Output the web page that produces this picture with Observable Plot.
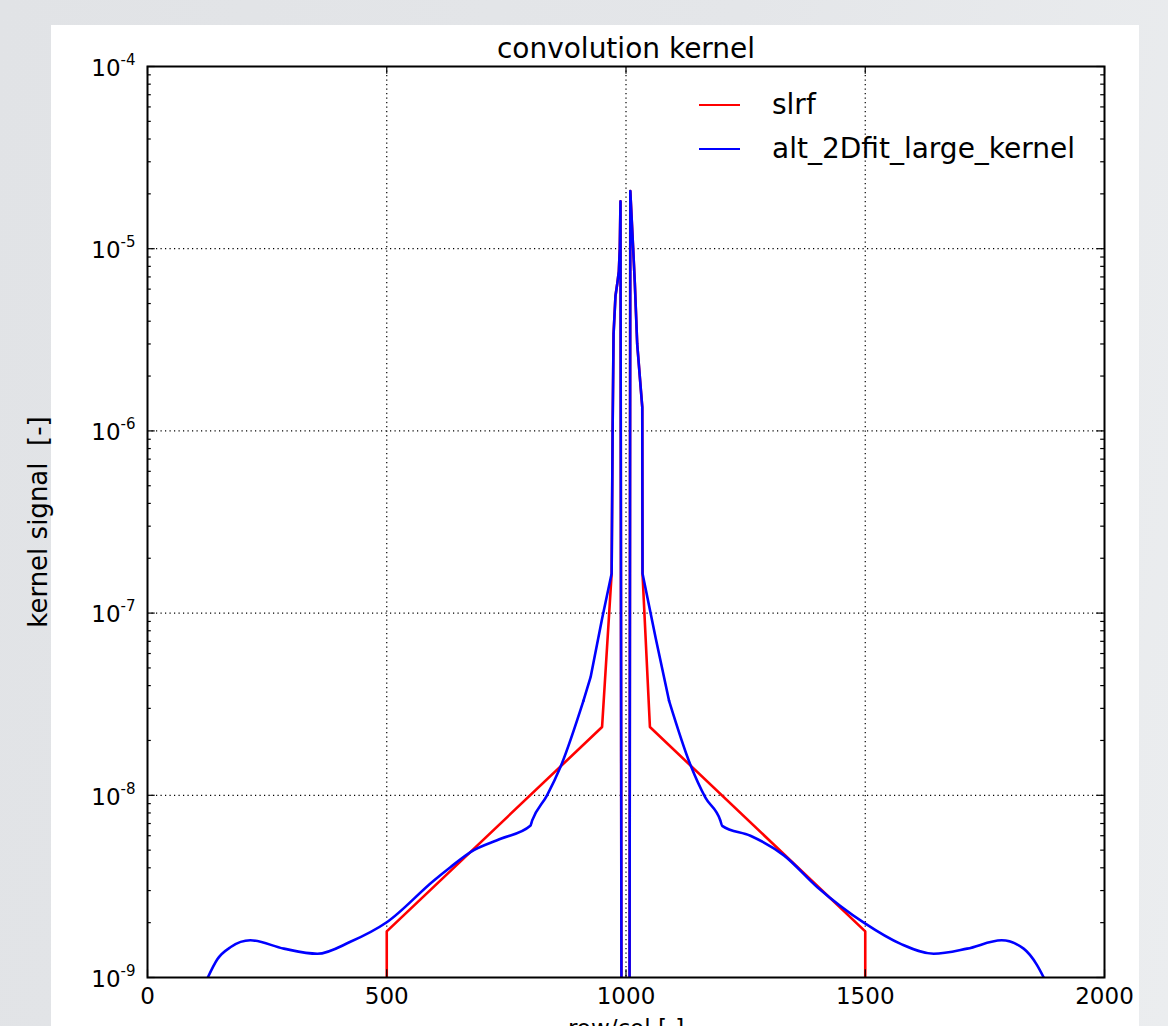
<!DOCTYPE html>
<html><head><meta charset="utf-8">
<script src="https://cdn.jsdelivr.net/npm/d3@7"></script>
<script src="https://cdn.jsdelivr.net/npm/@observablehq/plot@0.6"></script>
<style>
html,body{margin:0;padding:0;overflow:hidden;width:1168px;height:1026px;
  background:linear-gradient(100deg,#e1e3e6 0%,#e4e6e9 55%,#ebedef 100%);font-family:"DejaVu Sans",sans-serif;}
#panel{position:absolute;left:51px;top:25px;width:1088px;height:1040px;background:#fff;}
#chart{position:absolute;left:0;top:0;}
#legend{position:absolute;left:699px;top:83px;font-size:28px;line-height:44px;color:#000;font-family:"DejaVu Sans",sans-serif;}
.row{display:flex;align-items:center;height:44px;white-space:nowrap;}
.sw{width:41px;height:2.5px;margin-right:32px;}
</style></head><body>
<div id="panel"></div><div id="chart"></div><div id="legend"></div>
<script>
// ---- data ----
const title = "convolution kernel";
const xLabel = "row/col [-]";
const yLabel = "kernel signal\u00a0 [-]";
const seriesNames = ["slrf", "alt_2Dfit_large_kernel"];
const seriesColors = ["#ff0000", "#0000ff"];

const slrfX = [500, 500, 950, 970, 972, 974, 978, 982, 985, 987, 988.5, 1000, 1009, 1015, 1018.4, 1023.4, 1030, 1034, 1034.5, 1050, 1500, 1500];
const slrfY = [1e-30, 1.79e-9, 2.37e-8, 1.65e-7, 1e-6, 3.4e-6, 5.5e-6, 6.5e-6, 7.5e-6, 1e-5, 1.82e-5, 1e-30, 2.07e-5, 1e-5, 6.5e-6, 3e-6, 1.82e-6, 1.35e-6, 1.65e-7, 2.37e-8, 1.79e-9, 1e-30];

const altX = [126, 146, 174, 215, 285, 355, 424, 500, 598, 633, 675, 738, 800, 804, 835, 863, 911, 926, 950, 970, 972, 974, 978, 982, 985, 987, 988.5, 1000, 1009, 1015, 1018.4, 1023.4, 1030, 1034, 1034.5, 1062, 1090, 1135, 1166, 1197, 1201, 1260, 1330, 1400, 1497, 1574, 1643, 1713, 1785, 1831, 1859, 1873];
const altY = [1e-9, 1.26e-9, 1.47e-9, 1.6e-9, 1.44e-9, 1.35e-9, 1.57e-9, 2.01e-9, 3.4e-9, 4.03e-9, 4.88e-9, 5.77e-9, 6.8e-9, 7.28e-9, 1e-8, 1.43e-8, 3.3e-8, 4.45e-8, 9.3e-8, 1.65e-7, 1e-6, 3.4e-6, 5.5e-6, 6.5e-6, 7.5e-6, 1e-5, 1.82e-5, 1e-30, 2.07e-5, 1e-5, 6.5e-6, 3e-6, 1.82e-6, 1.35e-6, 1.65e-7, 7.3e-8, 3.3e-8, 1.46e-8, 9.7e-9, 7.3e-9, 6.8e-9, 6e-9, 4.68e-9, 3.13e-9, 2e-9, 1.53e-9, 1.35e-9, 1.44e-9, 1.6e-9, 1.44e-9, 1.17e-9, 1e-9];

const xTicks = [0, 500, 1000, 1500, 2000];
const xTickLabels = ["0", "500", "1000", "1500", "2000"];
const yTicks = [1e-9, 1e-8, 1e-7, 1e-6, 1e-5, 1e-4];
const yTickLabels = ["10^-9", "10^-8", "10^-7", "10^-6", "10^-5", "10^-4"];
const xGrid = [500, 1000, 1500];
const yGrid = [1e-8, 1e-7, 1e-6, 1e-5];
const yMinor = [];
for (let e = -9; e <= -5; e++) for (let k = 2; k <= 9; k++) yMinor.push(k * Math.pow(10, e));

// ---- layout ----
const W = 1168, H = 1050;
const mL = 147, mR = W - 1104, mT = 66, mB = H - 977;
const pw = W - mL - mR, ph = H - mT - mB;
const majorLen = 7.7, minorLen = 3.8;

const slrf = slrfX.map((x, i) => ({x, y: slrfY[i]}));
const alt = altX.map((x, i) => ({x, y: altY[i]}));
// smooth wings, straight segments in the sharp central part
const altLeft = alt.filter(d => d.x <= 911);
const altCenter = alt.filter(d => d.x >= 911 && d.x <= 1090);
const altRight = alt.filter(d => d.x >= 1090);

const tickStyle = {stroke: "#000", strokeWidth: 1.2};
const blue = {x: "x", y: "y", stroke: seriesColors[1], strokeWidth: 2.6, clip: true};
const plot = Plot.plot({
  width: W, height: H,
  marginLeft: mL, marginRight: mR, marginTop: mT, marginBottom: mB,
  style: {background: "transparent", fontFamily: "DejaVu Sans", color: "#000", overflow: "visible"},
  x: {domain: [0, 2000]},
  y: {type: "log", domain: [1e-9, 1e-4]},
  marks: [
    Plot.gridY(yGrid, {stroke: "#000", strokeOpacity: 1, strokeWidth: 1.2, strokeDasharray: "1.2,3.3"}),
    Plot.gridX(xGrid, {stroke: "#000", strokeOpacity: 1, strokeWidth: 1.2, strokeDasharray: "1.2,3.3"}),
    Plot.line(slrf, {x: "x", y: "y", stroke: seriesColors[0], strokeWidth: 2.6, clip: true}),
    Plot.line(altLeft, {...blue, curve: "monotone-x"}),
    Plot.line(altCenter, {...blue, curve: "linear"}),
    Plot.line(altRight, {...blue, curve: "monotone-x"}),
    Plot.tickY(yTicks, {y: d => d, insetRight: pw - majorLen, ...tickStyle}),
    Plot.tickY(yTicks, {y: d => d, insetLeft: pw - majorLen, ...tickStyle}),
    Plot.tickY(yMinor, {y: d => d, insetRight: pw - minorLen, ...tickStyle}),
    Plot.tickY(yMinor, {y: d => d, insetLeft: pw - minorLen, ...tickStyle}),
    Plot.tickX(xTicks, {x: d => d, insetTop: ph - majorLen, ...tickStyle}),
    Plot.tickX(xTicks, {x: d => d, insetBottom: ph - majorLen, ...tickStyle}),
    Plot.frame({stroke: "#000", strokeWidth: 2}),
    Plot.axisX({ticks: xTicks, tickFormat: d => xTickLabels[xTicks.indexOf(d)], tickSize: 0, tickPadding: 10, fontSize: 23,
      label: xLabel, labelAnchor: "center", labelArrow: "none", labelOffset: 58}),
    Plot.axisY({ticks: yTicks, tickFormat: d => yTickLabels[yTicks.indexOf(d)], tickSize: 0, tickPadding: 12, fontSize: 23,
      label: null}),
    Plot.axisY({ticks: [], label: yLabel, labelAnchor: "center", labelArrow: "none", labelOffset: 119, fontSize: 26}),
    Plot.text([title], {text: d => d, frameAnchor: "top", dy: -9, lineAnchor: "bottom", fontSize: 28, fill: "#000"})
  ]
});
document.getElementById("chart").appendChild(plot);

// superscript exponents on y tick labels
const NS = "http://www.w3.org/2000/svg";
plot.querySelectorAll("text").forEach(t => {
  const m = t.textContent.match(/^10\^(-?\d+)$/);
  if (!m) return;
  t.textContent = "";
  const a = document.createElementNS(NS, "tspan"); a.textContent = "10";
  const b = document.createElementNS(NS, "tspan"); b.textContent = m[1];
  b.setAttribute("font-size", "15"); b.setAttribute("dy", "-11");
  t.appendChild(a); t.appendChild(b);
  t.setAttribute("transform", (t.getAttribute("transform") || "") + " translate(0,2)");
});

// legend
const lg = document.getElementById("legend");
seriesNames.forEach((n, i) => {
  const r = document.createElement("div"); r.className = "row";
  const s = document.createElement("div"); s.className = "sw"; s.style.background = seriesColors[i];
  const t = document.createElement("span"); t.textContent = n;
  r.appendChild(s); r.appendChild(t); lg.appendChild(r);
});
</script></body></html>
